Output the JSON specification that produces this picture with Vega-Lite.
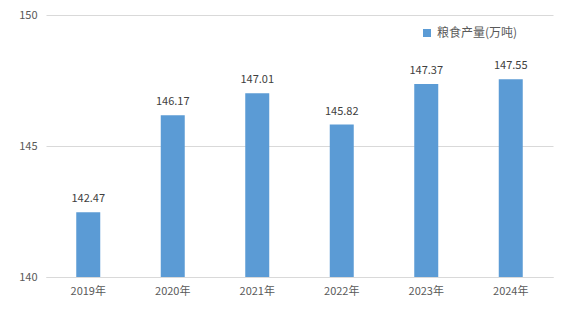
{
  "$schema": "https://vega.github.io/schema/vega-lite/v6.json",
  "autosize": "none",
  "width": 507,
  "height": 262,
  "padding": {"left": 46, "top": 15, "right": 15, "bottom": 35},
  "background": "white",
  "config": {
    "view": {"stroke": null},
    "font": "Noto Sans CJK SC",
    "axis": {"labelFont": "Noto Sans CJK SC", "labelColor": "#595959", "labelFontSize": 11}
  },
  "data": {"values": [
    {"year": "2019年", "value": 142.47, "series": "粮食产量(万吨)"},
    {"year": "2020年", "value": 146.17, "series": "粮食产量(万吨)"},
    {"year": "2021年", "value": 147.01, "series": "粮食产量(万吨)"},
    {"year": "2022年", "value": 145.82, "series": "粮食产量(万吨)"},
    {"year": "2023年", "value": 147.37, "series": "粮食产量(万吨)"},
    {"year": "2024年", "value": 147.55, "series": "粮食产量(万吨)"}
  ]},
  "encoding": {
    "x": {"field": "year", "type": "nominal", "title": null,
      "scale": {"paddingInner": 0.716, "paddingOuter": 0.358},
      "axis": {"labelAngle": 0, "ticks": false, "domainColor": "#d9d9d9", "labelPadding": 8, "grid": false}},
    "y": {"field": "value", "type": "quantitative", "title": null,
      "scale": {"domain": [140, 150], "zero": false, "nice": false},
      "axis": {"values": [140, 145, 150], "domain": false, "ticks": false, "gridColor": "#d9d9d9", "labelPadding": 9}}
  },
  "layer": [
    {
      "mark": {"type": "bar", "clip": true},
      "encoding": {
        "y2": {"datum": 140},
        "color": {"field": "series", "type": "nominal", "scale": {"range": ["#5B9BD5"]},
          "legend": {"title": null, "orient": "none", "legendX": 375, "legendY": 12, "symbolType": "square", "symbolSize": 64, "labelFontSize": 12, "labelColor": "#595959", "labelFont": "Noto Sans CJK SC", "symbolStrokeWidth": 0}}
      }
    },
    {
      "mark": {"type": "text", "dy": -13, "fontSize": 11, "color": "#404040"},
      "encoding": {"text": {"field": "value", "type": "quantitative", "format": ".2f"}}
    }
  ]
}
